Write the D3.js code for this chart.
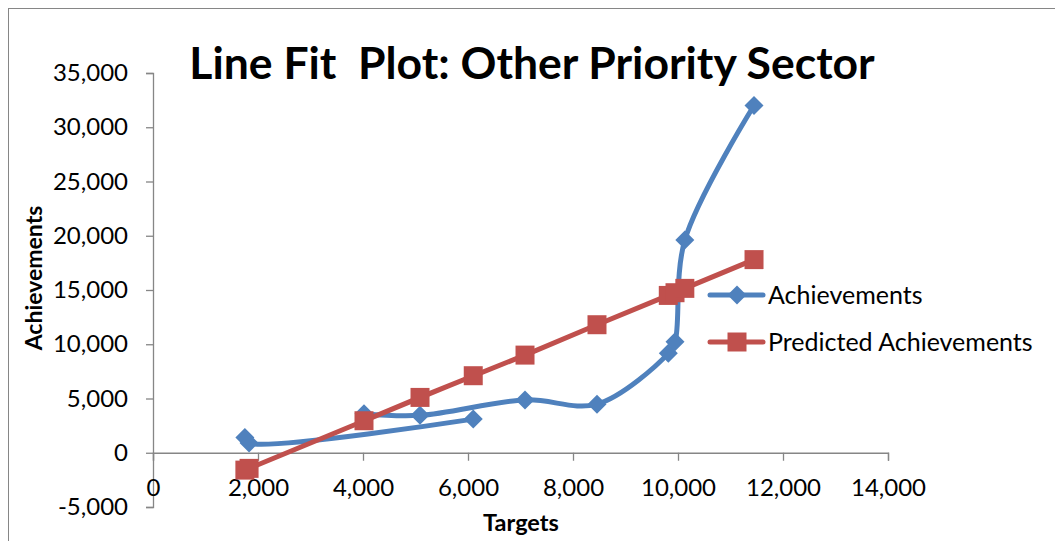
<!DOCTYPE html>
<html>
<head>
<meta charset="utf-8">
<script src="https://cdn.jsdelivr.net/npm/d3@7"></script>
<style>
  html, body { margin: 0; padding: 0; background: #fff; }
  svg { display: block; }
  text { font-family: Lato, "Open Sans", sans-serif; fill: #000; }
</style>
</head>
<body>
<svg id="chart" width="1055" height="541"></svg>
<script>
// Observations in worksheet order; a blank row (null) breaks the line.
const targets      = [1750, 1830, 6100, null, 4019, 5086, 7086, 8457, 9815, 9943, 10130, 11448];
const achievements = [1400,  900, 3100, null, 3600, 3450, 4870, 4480, 9160, 10220, 19600, 32000];
const predicted    = [-1600, -1440, 7100, null, 2950, 5100, 9000, 11800, 14500, 14750, 15150, 17800];

const xTicks = [0, 2000, 4000, 6000, 8000, 10000, 12000, 14000];
const yTicks = [-5000, 0, 5000, 10000, 15000, 20000, 25000, 30000, 35000];

const seriesNames = ["Achievements", "Predicted Achievements"];
const colors = { Achievements: "#4F81BD", "Predicted Achievements": "#C0504D" };

const svg = d3.select("#chart");
const comma = d3.format(",");
const fmt = v => comma(v).replace("\u2212", "-");

// outer chart frame
svg.append("rect")
  .attr("x", 8.5).attr("y", 8.5)
  .attr("width", 1200).attr("height", 700)
  .attr("fill", "none").attr("stroke", "#868686").attr("stroke-width", 1);

const x = d3.scaleLinear().domain([0, 14000]).range([153, 888]);
const y = d3.scaleLinear().domain([-5000, 35000]).range([507, 73]);

// title (keeps its double space)
svg.append("text")
  .attr("x", 532).attr("y", 79)
  .attr("text-anchor", "middle")
  .style("white-space", "pre")
  .style("font-weight", "bold").style("font-size", "44.5px")
  .text("Line Fit  Plot: Other Priority Sector");

// y axis at x = 0
const yAxis = svg.append("g")
  .attr("transform", `translate(${x(0)},0)`)
  .call(d3.axisLeft(y).tickValues(yTicks).tickFormat(fmt).tickSizeOuter(0).tickSize(7).tickPadding(18));

// x axis at y = 0
const xAxis = svg.append("g")
  .attr("transform", `translate(0,${y(0)})`)
  .call(d3.axisBottom(x).tickValues(xTicks).tickFormat(fmt).tickSizeOuter(0).tickSize(8));

[yAxis, xAxis].forEach(g => {
  g.select(".domain").attr("stroke", "#868686").attr("stroke-width", 1.3);
  g.selectAll(".tick line").attr("stroke", "#868686").attr("stroke-width", 1.3);
  g.selectAll(".tick text")
    .style("font-family", "Lato, sans-serif").style("font-size", "24px").attr("fill", "#000");
});
// x tick labels sit below the plot floor
xAxis.selectAll(".tick text").attr("y", 26);

// axis titles
svg.append("text")
  .attr("transform", "translate(42,278) rotate(-90)")
  .attr("text-anchor", "middle")
  .style("font-weight", "bold").style("font-size", "23px")
  .text("Achievements");

svg.append("text")
  .attr("x", 521).attr("y", 531)
  .attr("text-anchor", "middle")
  .style("font-weight", "bold").style("font-size", "23.5px")
  .text("Targets");

// series
const rows = targets.map((t, i) => ({ t, a: achievements[i], p: predicted[i] }));

const smooth = d3.line()
  .defined(d => d.t !== null)
  .x(d => x(d.t)).y(d => y(d.a))
  .curve(d3.curveCatmullRom.alpha(0.5));

const straight = d3.line()
  .defined(d => d.t !== null)
  .x(d => x(d.t)).y(d => y(d.p));

const diamond = r => `M0,${-r}L${r},0L0,${r}L${-r},0Z`;
const square = s => `M${-s/2},${-s/2}h${s}v${s}h${-s}Z`;

svg.append("path").datum(rows)
  .attr("d", smooth)
  .attr("fill", "none").attr("stroke", colors.Achievements)
  .attr("stroke-width", 5).attr("stroke-linecap", "round").attr("stroke-linejoin", "round");

svg.append("g").selectAll("path")
  .data(rows.filter(d => d.t !== null)).join("path")
  .attr("transform", d => `translate(${x(d.t)},${y(d.a)})`)
  .attr("d", diamond(9.5))
  .attr("fill", colors.Achievements);

svg.append("path").datum(rows)
  .attr("d", straight)
  .attr("fill", "none").attr("stroke", colors["Predicted Achievements"])
  .attr("stroke-width", 5).attr("stroke-linecap", "round");

svg.append("g").selectAll("path")
  .data(rows.filter(d => d.t !== null)).join("path")
  .attr("transform", d => `translate(${x(d.t)},${y(d.p)})`)
  .attr("d", square(19))
  .attr("fill", colors["Predicted Achievements"]);

// legend
const legend = svg.append("g");
seriesNames.forEach((name, i) => {
  const cy = 295 + i * 47;
  const g = legend.append("g").attr("transform", `translate(0,${cy})`);
  g.append("line")
    .attr("x1", 710).attr("x2", 763)
    .attr("stroke", colors[name]).attr("stroke-width", 5).attr("stroke-linecap", "round");
  g.append("path")
    .attr("transform", "translate(737,0)")
    .attr("d", i === 0 ? diamond(9.5) : square(19))
    .attr("fill", colors[name]);
  g.append("text")
    .attr("x", 768).attr("y", 0).attr("dy", "0.35em")
    .style("font-size", "25px")
    .text(name);
});
</script>
</body>
</html>
